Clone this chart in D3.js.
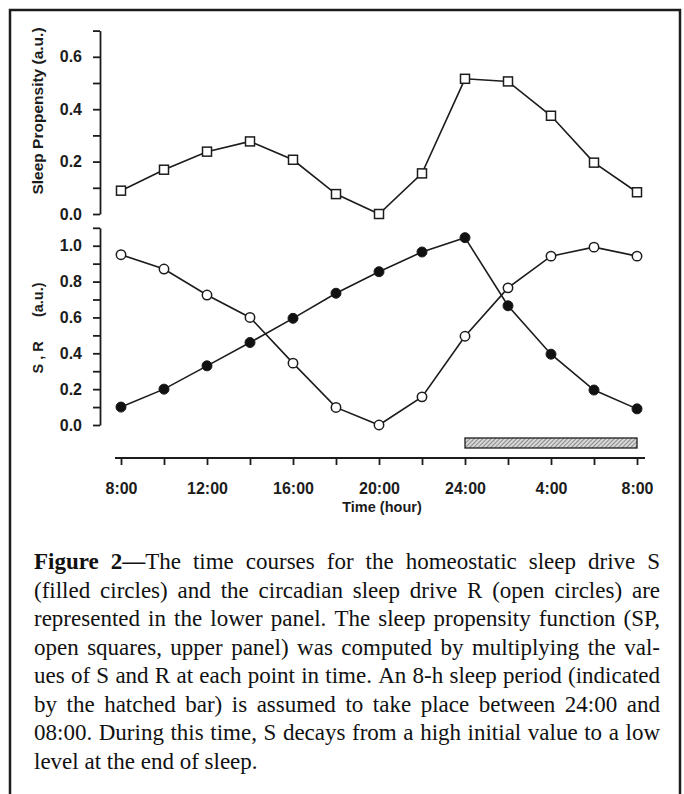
<!DOCTYPE html>
<html><head><meta charset="utf-8">
<script src="https://cdn.jsdelivr.net/npm/d3@7"></script>
<style>body{margin:0;background:#fff} svg{display:block}</style>
</head><body><svg id="c" width="684" height="794"></svg>
<script>
// ---- data ----
const hours = [8,10,12,14,16,18,20,22,24,26,28,30,32];
const sleepPropensity = [0.089,0.169,0.238,0.277,0.207,0.076,0.0,0.155,0.516,0.506,0.375,0.196,0.083];
const homeostaticS = [0.10,0.20,0.33,0.46,0.595,0.735,0.855,0.965,1.045,0.665,0.395,0.195,0.09];
const circadianR = [0.95,0.87,0.725,0.60,0.345,0.098,0.0,0.157,0.495,0.765,0.942,0.992,0.942];
const xTickHours = [8,10,12,14,16,18,20,22,24,26,28,30,32];
const xLabelHours = [8,12,16,20,24,28,32];
const xTickLabels = ["8:00","12:00","16:00","20:00","24:00","4:00","8:00"];
const spTickValues = [0,0.1,0.2,0.3,0.4,0.5,0.6,0.7];
const spLabelValues = [0,0.2,0.4,0.6];
const srTickValues = [0,0.1,0.2,0.3,0.4,0.5,0.6,0.7,0.8,0.9,1.0,1.1];
const srLabelValues = [0,0.2,0.4,0.6,0.8,1.0];
const sleepPeriod = [24,32];
const captionLines = [
  [["Figure 2\u2014",true],["The time courses for the homeostatic sleep drive S",false]],
  [["(filled circles) and the circadian sleep drive R (open circles) are",false]],
  [["represented in the lower panel. The sleep propensity function (SP,",false]],
  [["open squares, upper panel) was computed by multiplying the val-",false]],
  [["ues of S and R at each point in time. An 8-h sleep period (indicated",false]],
  [["by the hatched bar) is assumed to take place between 24:00 and",false]],
  [["08:00. During this time, S decays from a high initial value to a low",false]],
  [["level at the end of sleep.",false]]
];

const svg = d3.select("#c");
const ink = "#1c1c1c";

// frame
svg.append("rect").attr("x",10).attr("y",10).attr("width",670).attr("height",800)
  .attr("fill","none").attr("stroke",ink).attr("stroke-width",2.5);

// scales
const x = d3.scaleLinear().domain([8,32]).range([121,637]);
const ySP = d3.scaleLinear().domain([0,0.7]).range([214,30.6]);
const ySR = d3.scaleLinear().domain([0,1.1]).range([425,227.8]);
const axisX = 100;

function styleAxis(g){
  g.selectAll("path,line").attr("stroke",ink).attr("stroke-width",1.8);
  g.selectAll("text").attr("fill",ink).attr("font-family","'Liberation Sans', Arial, sans-serif")
    .attr("font-weight","bold").attr("font-size",16);
}

const gSP = svg.append("g").attr("transform",`translate(${axisX},0)`)
  .call(d3.axisLeft(ySP).tickValues(spTickValues).tickSize(7).tickSizeOuter(0).tickPadding(11)
    .tickFormat(d => spLabelValues.some(v=>Math.abs(v-d)<1e-9) ? d.toFixed(1) : ""));
styleAxis(gSP);
const gSR = svg.append("g").attr("transform",`translate(${axisX},0)`)
  .call(d3.axisLeft(ySR).tickValues(srTickValues).tickSize(7).tickSizeOuter(0).tickPadding(11)
    .tickFormat(d => srLabelValues.some(v=>Math.abs(v-d)<1e-9) ? d.toFixed(1) : ""));
styleAxis(gSR);

// x axis
const xAxisY = 458;
const gX = svg.append("g").attr("transform",`translate(0,${xAxisY})`)
  .call(d3.axisBottom(x).tickValues(xTickHours).tickSize(7).tickSizeOuter(0).tickPadding(18)
    .tickFormat(d => { const i = xLabelHours.indexOf(d); return i>=0 ? xTickLabels[i] : ""; }));
gX.select(".domain").remove();
gX.append("line").attr("x1",x(8)-6).attr("x2",x(32)+8).attr("y1",0).attr("y2",0);
styleAxis(gX);

// axis titles
const titleFont = "'Liberation Sans', Arial, sans-serif";
svg.append("text").attr("transform","translate(43,111) rotate(-90)").attr("text-anchor","middle")
  .attr("font-family",titleFont).attr("font-weight","bold").attr("font-size",15.5).attr("fill",ink)
  .text("Sleep Propensity (a.u.)");
svg.append("text").attr("transform","translate(43,328) rotate(-90)").attr("text-anchor","middle")
  .attr("font-family",titleFont).attr("font-weight","bold").attr("font-size",14.5).attr("fill",ink)
  .style("white-space","pre").text("S , R      (a.u.)");
svg.append("text").attr("x",382).attr("y",512).attr("text-anchor","middle")
  .attr("font-family",titleFont).attr("font-weight","bold").attr("font-size",14.5).attr("fill",ink)
  .text("Time (hour)");

// hatched sleep bar
const defs = svg.append("defs");
const pat = defs.append("pattern").attr("id","hatch").attr("patternUnits","userSpaceOnUse")
  .attr("width",3).attr("height",3).attr("patternTransform","rotate(45)");
pat.append("rect").attr("width",3).attr("height",3).attr("fill","#d8d8d8");
pat.append("line").attr("x1",0).attr("y1",0).attr("x2",0).attr("y2",3).attr("stroke","#555").attr("stroke-width",1.2);
svg.append("rect").attr("x",x(sleepPeriod[0])).attr("y",438)
  .attr("width",x(sleepPeriod[1])-x(sleepPeriod[0])).attr("height",10)
  .attr("fill","url(#hatch)").attr("stroke",ink).attr("stroke-width",1.3);

// lines
const line = (ys, scale) => d3.line().x((d,i)=>x(hours[i])).y(d=>scale(d))(ys);
svg.append("path").attr("d",line(sleepPropensity,ySP)).attr("fill","none").attr("stroke",ink).attr("stroke-width",1.6);
svg.append("path").attr("d",line(circadianR,ySR)).attr("fill","none").attr("stroke",ink).attr("stroke-width",1.6);
svg.append("path").attr("d",line(homeostaticS,ySR)).attr("fill","none").attr("stroke",ink).attr("stroke-width",1.6);

// markers
svg.append("g").selectAll("rect").data(sleepPropensity).join("rect")
  .attr("x",(d,i)=>x(hours[i])-4.5).attr("y",d=>ySP(d)-4.5).attr("width",9).attr("height",9)
  .attr("fill","#fff").attr("stroke",ink).attr("stroke-width",1.5);
svg.append("g").selectAll("circle").data(circadianR).join("circle")
  .attr("cx",(d,i)=>x(hours[i])).attr("cy",d=>ySR(d)).attr("r",4.7)
  .attr("fill","#fff").attr("stroke",ink).attr("stroke-width",1.5);
svg.append("g").selectAll("circle").data(homeostaticS).join("circle")
  .attr("cx",(d,i)=>x(hours[i])).attr("cy",d=>ySR(d)).attr("r",5)
  .attr("fill","#111").attr("stroke",ink).attr("stroke-width",1);

// caption, justified
const capFont = "'Liberation Serif', 'Times New Roman', serif";
const capSize = 23, capLeft = 34, capRight = 660, capY0 = 569, capLH = 28.5;
const measurer = svg.append("text").attr("font-family",capFont).attr("font-size",capSize).attr("visibility","hidden");
function measure(txt,bold){ measurer.attr("font-weight",bold?"bold":"normal").text(txt); return measurer.node().getComputedTextLength(); }
const spaceW = (()=>{ measurer.attr("font-weight","normal").text("a a"); const w2=measurer.node().getComputedTextLength(); measurer.text("aa"); return w2-measurer.node().getComputedTextLength(); })();
captionLines.forEach((runs, li) => {
  const words = [];
  let cur = [];
  runs.forEach(([txt,bold]) => {
    const parts = txt.split(" ");
    parts.forEach((p,pi) => {
      if (pi>0) { if (cur.length) words.push(cur); cur = []; }
      if (p.length) cur.push([p,bold]);
    });
  });
  if (cur.length) words.push(cur);
  const widths = words.map(w => d3.sum(w, r => measure(r[0], r[1])));
  const total = d3.sum(widths);
  const last = li === captionLines.length-1;
  const gap = last ? spaceW : (capRight - capLeft - total)/(words.length-1);
  let xp = capLeft;
  const y = capY0 + li*capLH;
  words.forEach((w,wi) => {
    const t = svg.append("text").attr("x",xp).attr("y",y).attr("font-family",capFont)
      .attr("font-size",capSize).attr("fill","#111");
    w.forEach(r => t.append("tspan").attr("font-weight",r[1]?"bold":"normal").text(r[0]));
    xp += widths[wi] + gap;
  });
});
measurer.remove();
</script></body></html>
